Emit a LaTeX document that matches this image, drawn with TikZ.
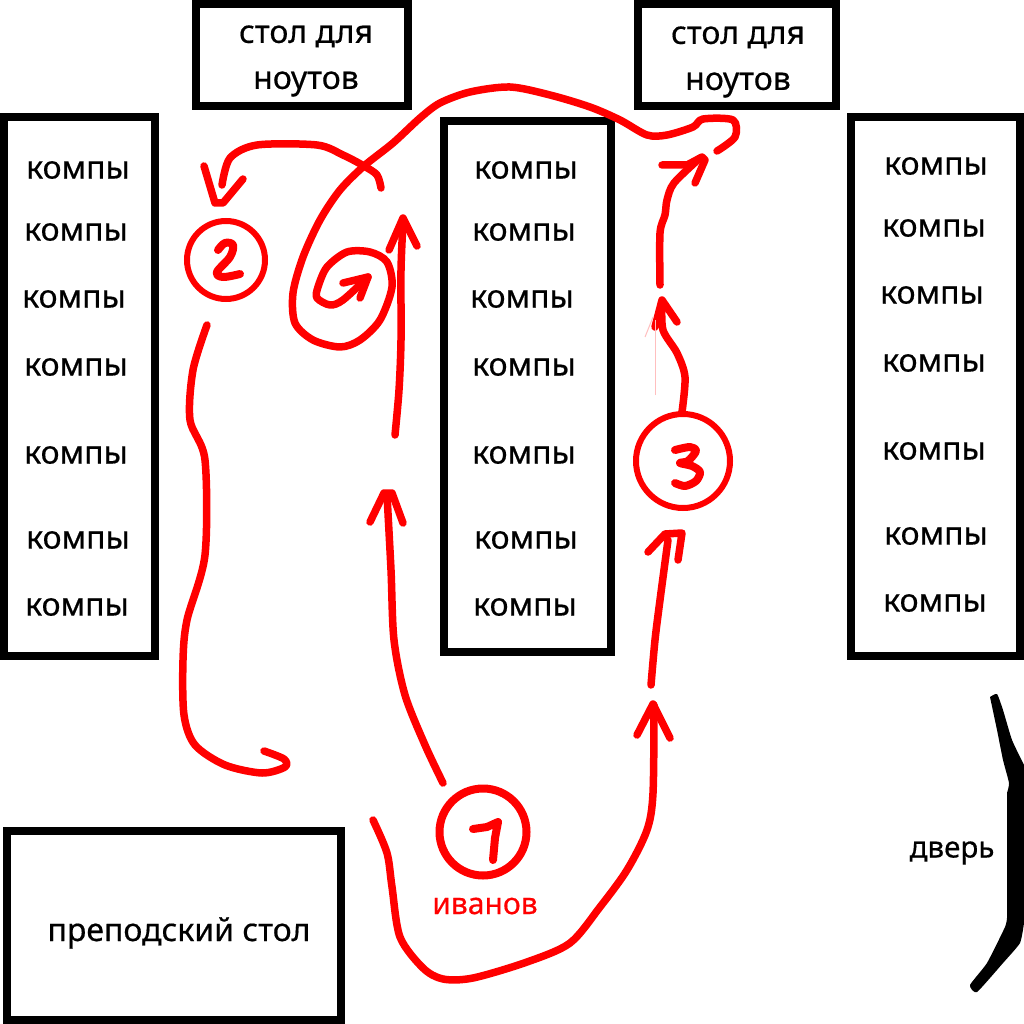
\documentclass[tikz,border=0pt]{standalone}
\usepackage{fontspec}
\setmainfont{Noto Sans}[FakeBold=0.5]
\tikzset{
  box/.style={draw=black,line width=8pt,fill=white},
  lbl/.style={font=\fontsize{32}{36}\selectfont,text=black,inner sep=0pt,anchor=center},
  tbl/.style={font=\fontsize{32}{46}\selectfont,text=black,inner sep=0pt,align=center,anchor=center},
  stroke/.style={draw=red,line width=7.5pt,line cap=round,line join=round},
  digit/.style={draw=red,line width=8pt,line cap=round,line join=round},
  ring/.style={draw=red,line width=6pt,circle,inner sep=0pt,fill=none},
}
\begin{document}
\begin{tikzpicture}[x=1pt,y=-1pt]
\useasboundingbox (0,0) rectangle (1024,1024);
\fill[white] (0,0) rectangle (1024,1024);
% boxes
\draw[box] (4,117) rectangle (155,656);
\draw[box] (444,121) rectangle (611,652);
\draw[box] (851,117) rectangle (1020,656);
\draw[box] (196,4) rectangle (408,106);
\draw[box] (638,4) rectangle (836,106);
\draw[box] (7,831) rectangle (341,1020);
% labels
\node[tbl] (t1) at (306,61) {стол для\\ноутов};
\node[tbl] (t2) at (738,62) {стол для\\ноутов};
\node[lbl] (a1) at (78,170) {компы};
\node[lbl] (a2) at (76,232) {компы};
\node[lbl] (a3) at (74,299) {компы};
\node[lbl] (a4) at (76,367) {компы};
\node[lbl] (a5) at (76,455) {компы};
\node[lbl] (a6) at (78,540) {компы};
\node[lbl] (a7) at (77,607) {компы};
\node[lbl] (b1) at (526,170) {компы};
\node[lbl] (b2) at (524,232) {компы};
\node[lbl] (b3) at (522,299) {компы};
\node[lbl] (b4) at (524,367) {компы};
\node[lbl] (b5) at (524,455) {компы};
\node[lbl] (b6) at (526,540) {компы};
\node[lbl] (b7) at (525,607) {компы};
\node[lbl] (c1) at (936,166) {компы};
\node[lbl] (c2) at (934,228) {компы};
\node[lbl] (c3) at (932,295) {компы};
\node[lbl] (c4) at (934,363) {компы};
\node[lbl] (c5) at (934,451) {компы};
\node[lbl] (c6) at (936,536) {компы};
\node[lbl] (c7) at (935,603) {компы};
\node[tbl] (teacher) at (179,933) {преподский стол};
\node[lbl,font=\fontsize{29.5}{34}\selectfont] (door) at (952,853) {дверь};
\node[lbl,font=\fontsize{30}{34}\selectfont,text=red] (ivanov) at (485,906) {иванов};
% circles
\node[ring,minimum size=78pt] (n2) at (226,260) {};
\node[ring,minimum size=94pt] (n3) at (683,461) {};
\node[ring,line width=8pt,minimum size=87pt] (n1) at (483,832) {};
% digits
\draw[digit] plot[smooth,tension=.6] coordinates {(218,250) (225,243) (233,245) (230,257) (217,272) (223,277) (240,274)};
\draw[digit] plot[smooth,tension=.5] coordinates {(675,450) (690,447) (696,451) (688,461) (680,463) (692,466) (700,472) (696,481) (685,486) (675,483)};
\draw[digit] (473,829) -- (487,827) -- (498,822) -- (495,838) -- (493,860);
% arc ending above circle 2
\draw[stroke] plot[smooth,tension=.5] coordinates {(381,188) (377,175) (364,166) (343,155) (317,145) (257,145) (230,158) (222,185)};
\draw[stroke] (204,166) -- (215,203) -- (223,203) -- (243,179);
% long route from the notebook table into the spiral
\draw[stroke] plot[smooth,tension=.5] coordinates {(717,151) (735,137) (733,120) (703,119) (693,127) (667,135) (647,135) (620,120) (590,107) (550,95) (510,87) (470,92) (440,103) (420,118) (393,143) (364,166) (340,190) (320,220) (303,257) (293,293) (295,323) (313,340) (340,347) (360,340) (380,320) (392,287) (387,262) (370,252) (347,252) (327,267) (318,287) (317,298) (330,305) (343,300) (368,277)};
\draw[stroke] (343,283) -- (368,277) -- (360,298);
% straight arrow next to the spiral
\draw[stroke] plot[smooth,tension=.5] coordinates {(395,435) (399,390) (401,340) (401,270) (403,222)};
\draw[stroke] (389,250) -- (403,218) -- (417,246);
% from 2 down
\draw[stroke] plot[smooth,tension=.5] coordinates {(207,325) (193,370) (190,420) (205,460) (205,555) (187,620) (183,660) (184,715) (195,745) (225,765) (262,773) (285,767) (284,759) (264,751)};
% 1 up to the left
\draw[stroke] plot[smooth,tension=.5] coordinates {(443,783) (425,745) (405,695) (394,640) (391,570) (387,495)};
\draw[stroke] (370,522) -- (384,493) -- (392,493) -- (403,523);
% 1 around to the right
\draw[stroke] plot[smooth,tension=.5] coordinates {(373,820) (387,853) (392,887) (400,937) (423,968) (443,979) (473,978) (527,962) (570,943) (600,907) (627,870) (647,830) (653,793) (654,705)};
\draw[stroke] (637,735) -- (653,704) -- (670,738);
% continues to 3
\draw[stroke] plot[smooth,tension=.5] coordinates {(651,685) (655,640) (660,600) (668,540)};
\draw[stroke] (648,552) -- (665,534) -- (682,533) -- (678,560);
% 3 up
\draw[stroke] plot[smooth,tension=.5] coordinates {(682,412) (685,377) (677,353) (663,330) (662,303)};
\draw[stroke] (655,327) -- (662,300) -- (677,322);
\draw[draw=red!25,line width=1pt] (655,395) -- (655,320);
\draw[draw=red!25,line width=1pt] (645,337) -- (653,317);
% upper piece
\draw[stroke] plot[smooth,tension=.5] coordinates {(660,285) (660,233) (665,215) (667,200) (674,183) (700,158)};
\draw[stroke] (662,165) -- (687,165) -- (702,157) -- (705,160) -- (695,183);
% door
\fill[black] plot[smooth,tension=.3] coordinates {(990,697) (997,694) (1003,710) (1012,740) (1024,765)} -- (1024,923) -- plot[smooth,tension=.3] coordinates {(1024,923) (1020,943) (1003,963) (977,992) (970,985) (987,963) (1005,927) (1007,918)} -- (1007,793) -- plot[smooth,tension=.3] coordinates {(1007,793) (1009,783) (1003,760) (997,730) (990,697)} -- cycle;
\end{tikzpicture}
\end{document}
